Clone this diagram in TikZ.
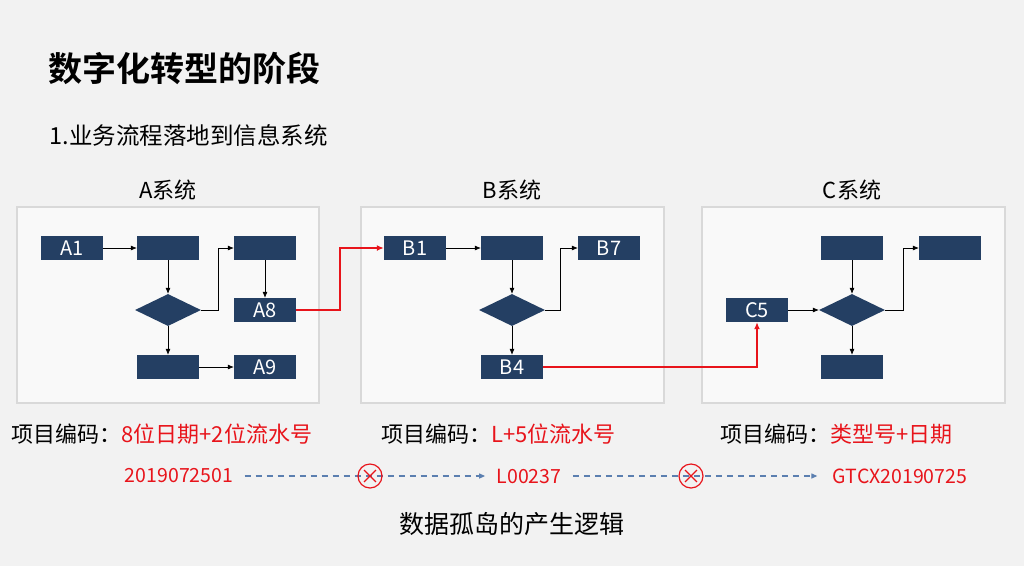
\documentclass[tikz,border=0pt]{standalone}
\usepackage{fontspec}
\setmainfont{Noto Sans CJK SC}
\newfontfamily\cjkb[BoldFont={* Bold}]{Noto Sans CJK SC}
\usetikzlibrary{shapes.geometric,arrows.meta}
\definecolor{navy}{HTML}{243F63}
\definecolor{bg}{HTML}{F2F2F2}
\definecolor{panel}{HTML}{F9F9F9}
\definecolor{pborder}{HTML}{D9D9D9}
\definecolor{rd}{HTML}{E8141B}
\definecolor{dash}{HTML}{5B7FB0}
\begin{document}
\begin{tikzpicture}[x=1pt,y=-1pt,
  bx/.style={draw=none,fill=navy,minimum width=62pt,minimum height=24pt,inner sep=0pt,text=white,font=\fontsize{20}{20}\selectfont},
  dm/.style={diamond,fill=navy,minimum width=66pt,minimum height=32pt,inner sep=0pt,aspect=2.06},
  pn/.style={draw=pborder,line width=1.5pt,fill=panel},
  ar/.style={-{Latex[length=6pt,width=5pt]},line width=0.6pt},
  rl/.style={-{Latex[length=7pt,width=6pt]},draw=rd,line width=1.3pt},
  dl/.style={-{Triangle[length=6pt,width=5pt]},draw=dash,dashed,dash pattern=on 6pt off 5pt,line width=1.2pt},
  lb/.style={font=\fontsize{22}{22}\selectfont},
  cd/.style={text=rd,font=\fontsize{19.5}{20}\selectfont},
  xm/.style={circle,draw=rd,line width=1.2pt,minimum size=24pt,inner sep=0pt}]
\fill[bg] (0,0) rectangle (1024,566);
\node[anchor=west,font=\cjkb\bfseries\fontsize{34}{34}\selectfont] (title) at (45,68) {数字化转型的阶段};
\node[anchor=west,font=\fontsize{23.5}{24}\selectfont] (sub) at (46,135) {1.业务流程落地到信息系统};
% panels
\draw[pn] (17,207) rectangle (319,403);
\draw[pn] (361,207) rectangle (664,403);
\draw[pn] (702,207) rectangle (1005,403);
\node[lb] (ta) at (168,190) {A系统};
\node[lb] (tb) at (512,190) {B系统};
\node[lb] (tc) at (852,190) {C系统};
% A
\node[bx] (a1) at (72,248) {A1};
\node[bx] (a2) at (168,248) {};
\node[bx] (a3) at (265,248) {};
\node[dm] (ad) at (168,310) {};
\node[bx] (a8) at (265,310) {A8};
\node[bx] (a4) at (168,367) {};
\node[bx] (a9) at (265,367) {A9};
\draw[ar] (a1) -- (a2);
\draw[ar] (a2) -- (ad);
\draw[ar] (ad.east) -- (218,310) |- (a3.west);
\draw[ar] (a3) -- (a8);
\draw[ar] (ad) -- (a4);
\draw[ar] (a4) -- (a9);
% B
\node[bx] (b1) at (415,248) {B1};
\node[bx] (b2) at (512,248) {};
\node[bx] (b7) at (609,248) {B7};
\node[dm] (bd) at (512,310) {};
\node[bx] (b4) at (512,367) {B4};
\draw[ar] (b1) -- (b2);
\draw[ar] (b2) -- (bd);
\draw[ar] (bd.east) -- (560,310) |- (b7.west);
\draw[ar] (bd) -- (b4);
% C
\node[bx] (c2) at (852,248) {};
\node[bx] (c3) at (950,248) {};
\node[bx] (c5) at (757,310) {C5};
\node[dm] (cd) at (852,310) {};
\node[bx] (c4) at (852,367) {};
\draw[ar] (c2) -- (cd);
\draw[ar] (c5) -- (cd);
\draw[ar] (cd.east) -- (903,310) |- (c3.west);
\draw[ar] (cd) -- (c4);
% red
\draw[rl] (a8.east) -- (340,310) |- (b1.west);
\draw[rl] (b4.east) -| (c5.south);
% codes
\node[lb,anchor=west] (la) at (8,434) {项目编码：\textcolor{rd}{8位日期+2位流水号}};
\node[lb,anchor=west] (lbb) at (378,434) {项目编码：\textcolor{rd}{L+5位流水号}};
\node[lb,anchor=west] (lc) at (717,434) {项目编码：\textcolor{rd}{类型号+日期}};
\node[cd] (k1) at (179,476) {2019072501};
\node[cd] (k2) at (529,476) {L00237};
\node[cd] (k3) at (900,476) {GTCX20190725};
\draw[dl] (k1.east)++(8,0) -- ([xshift=-8pt]k2.west);
\draw[dl] (k2.east)++(8,0) -- ([xshift=-12pt]k3.west);
\node[xm] (x1) at (370,476) {};
\node[xm] (x2) at (691,476) {};
\draw[rd,line width=1.2pt] (x1.north west)++(3,3) -- ([shift={(-3,-3)}]x1.south east) (x1.north east)++(-3,3) -- ([shift={(3,-3)}]x1.south west);
\draw[rd,line width=1.2pt] (x2.north west)++(3,3) -- ([shift={(-3,-3)}]x2.south east) (x2.north east)++(-3,3) -- ([shift={(3,-3)}]x2.south west);
\node[font=\fontsize{25}{25}\selectfont] (cap) at (512,524) {数据孤岛的产生逻辑};
\end{tikzpicture}
\end{document}
